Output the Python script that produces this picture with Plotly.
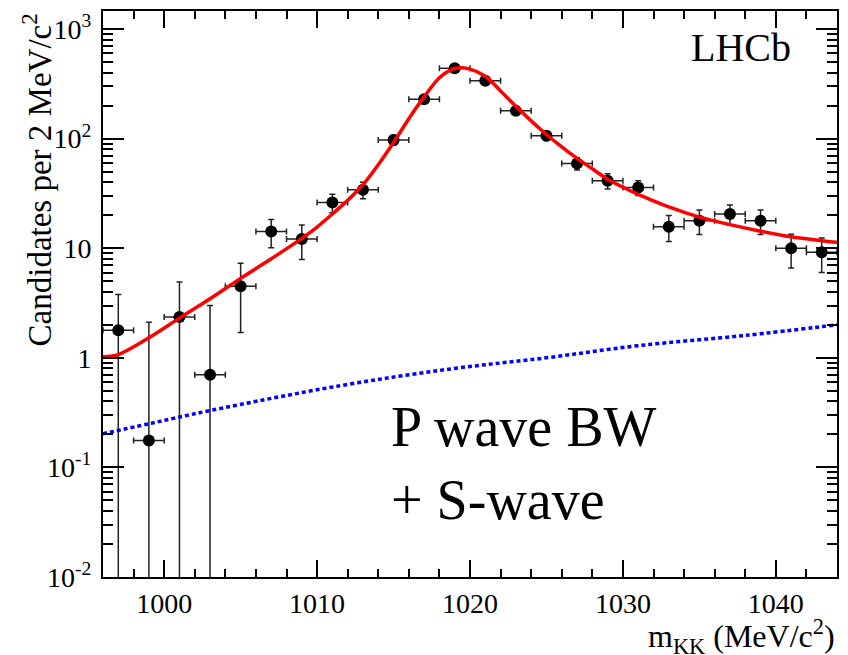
import plotly.graph_objects as go

# ---- data ----
mass = [997, 999, 1001, 1003, 1005, 1007, 1009, 1011, 1013, 1015, 1017, 1019,
        1021, 1023, 1025, 1027, 1029, 1031, 1033, 1035, 1037, 1039, 1041, 1043]
counts = [1.78, 0.176, 2.36, 0.70, 4.5, 14.2, 12.1, 26.1, 34.1, 97.0, 229, 439,
          337, 179, 106, 59.3, 41.2, 35.8, 15.7, 17.8, 20.5, 17.8, 10.0, 9.2]
count_err = [2.0, 1.93, 2.55, 2.3, 2.8, 4.1, 4.2, 5.0, 5.8, 10, 15, 21,
             18, 13, 10, 7.7, 6.5, 5.5, 4.2, 4.5, 4.3, 4.5, 3.4, 3.2]
bin_half_width = [1.0] * len(mass)

# total fit
fit_x = [996, 997, 999, 1001, 1003, 1005, 1007, 1009, 1010, 1011, 1012, 1013,
         1014, 1015, 1016, 1017, 1018, 1019, 1020, 1021, 1022, 1023, 1024,
         1025, 1026, 1027, 1028, 1029, 1030, 1031, 1033, 1035, 1037, 1039,
         1041, 1043, 1044]
fit_y = [1.02, 1.07, 1.52, 2.3, 3.45, 5.3, 8.0, 12.3, 15.6, 20.5, 27.3, 37.9,
         57.7, 92.0, 152, 240, 359, 436, 430, 370, 272, 197, 145,
         109, 84, 66, 53, 42.5, 36.0, 31.0, 23.8, 19.2, 16.4, 14.3,
         12.7, 11.7, 11.3]

# S-wave component
swave_x = [996, 999, 1003, 1011.5, 1018.7, 1025, 1031, 1038, 1044]
swave_y = [0.203, 0.25, 0.33, 0.556, 0.79, 1.0, 1.29, 1.6, 2.0]

y_tickvals = [0.01, 0.1, 1, 10, 100, 1000]
y_ticktext = ["10<sup>-2</sup>", "10<sup>-1</sup>", "1", "10",
              "10<sup>2</sup>", "10<sup>3</sup>"]
x_tickvals = [1000, 1010, 1020, 1030, 1040]

FONT = '"Liberation Serif", "Times New Roman", serif'

fig = go.Figure()

fig.add_trace(go.Scatter(
    x=mass, y=counts, mode="markers",
    marker=dict(color="black", size=12),
    error_y=dict(type="data", array=count_err, color="#222222",
                 thickness=1.5, width=3),
    error_x=dict(type="data", array=bin_half_width, color="#222222",
                 thickness=1.5, width=3),
    showlegend=False,
))

fig.add_trace(go.Scatter(
    x=swave_x, y=swave_y, mode="lines",
    line=dict(color="#0000ff", width=3.5, dash="4px,3px", shape="spline"),
    showlegend=False,
))

fig.add_trace(go.Scatter(
    x=fit_x, y=fit_y, mode="lines",
    line=dict(color="#ff0000", width=3.5, shape="spline", smoothing=0.8),
    showlegend=False,
))

fig.update_layout(
    width=848, height=655,
    margin=dict(l=103, r=11, t=11, b=78, autoexpand=False),
    paper_bgcolor="white", plot_bgcolor="white",
    font=dict(family=FONT, color="black"),
)

fig.update_xaxes(
    range=[996, 1044], automargin=False,
    tickvals=x_tickvals,
    ticks="inside", ticklen=17, tickwidth=1.5, tickcolor="black",
    minor=dict(ticks="inside", ticklen=8, tickwidth=1.5, tickcolor="black",
               dtick=2, tick0=1000, showgrid=False),
    showline=True, linewidth=2, linecolor="black", mirror="allticks",
    showgrid=False, zeroline=False,
    tickfont=dict(family=FONT, size=28, color="black"),
    ticklabelstandoff=0,
)

fig.update_yaxes(
    type="log", range=[-2, 3.164], automargin=False,
    tickvals=y_tickvals, ticktext=y_ticktext,
    ticks="inside", ticklen=21, tickwidth=1.5, tickcolor="black",
    minor=dict(ticks="inside", ticklen=10, tickwidth=1.5, tickcolor="black",
               dtick="D1", showgrid=False),
    showline=True, linewidth=2, linecolor="black", mirror="allticks",
    showgrid=False, zeroline=False,
    tickfont=dict(family=FONT, size=28, color="black"),
    ticklabelstandoff=4,
)

annotations = [
    dict(text="Candidates per 2 MeV/c<sup>2</sup>", textangle=-90,
         xref="paper", yref="paper", x=-0.09, y=1.0,
         xanchor="center", yanchor="top", showarrow=False,
         font=dict(family=FONT, size=33, color="black")),
    dict(text="m<sub>KK</sub> (MeV/c<sup>2</sup>)",
         xref="paper", yref="paper", x=1.0, y=-0.062,
         xanchor="right", yanchor="top", showarrow=False,
         font=dict(family=FONT, size=32, color="black")),
    dict(text="LHCb", xref="paper", yref="paper", x=0.798, y=0.935,
         xanchor="left", yanchor="middle", showarrow=False,
         font=dict(family=FONT, size=40, color="black")),
    dict(text="P wave BW<br>+ S-wave", xref="paper", yref="paper",
         x=0.39, y=0.20, xanchor="left", yanchor="middle", align="left",
         showarrow=False,
         font=dict(family=FONT, size=56, color="black")),
]
fig.update_layout(annotations=annotations)

fig.write_html("out.html",
               config={"displayModeBar": False},
               post_script="document.body.style.margin='0px';")
